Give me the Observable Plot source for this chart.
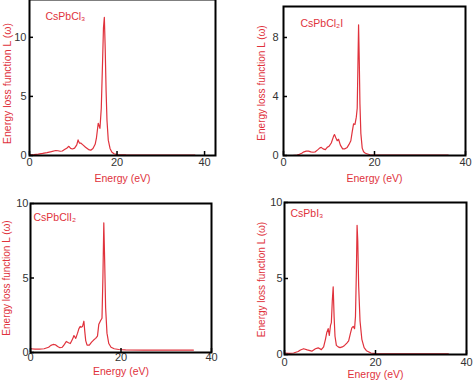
<!DOCTYPE html>
<html><head><meta charset="utf-8">
<script src="https://cdn.jsdelivr.net/npm/d3@7"></script>
<script src="https://cdn.jsdelivr.net/npm/@observablehq/plot@0.6"></script>
<style>
body{margin:0;background:#fff}
#c{position:relative;width:474px;height:380px;overflow:hidden;background:#fff}
#c>svg{position:absolute}
</style>
</head><body><div id="c"></div>
<script>
// ---- data ----
const xTicks = [0, 20, 40];
const yTicksA = [0, 5, 10];
const yTicksB = [0, 4, 8];
const xLabel = "Energy (eV)";
const yLabel = "Energy loss function L (ω)";
const names = ["CsPbCl₃", "CsPbCl₂I", "CsPbClI₂", "CsPbI₃"];

const cl3Energy = [0,1,2,3,4,5,6,6.5,7,7.5,8,8.5,9,9.4,9.8,10.3,10.8,11.1,11.4,11.7,12.2,12.8,13.5,14,14.5,15,15.3,15.7,16.1,16.4,16.7,16.9,17.1,17.3,17.5,17.7,18,18.4,18.8,19.3,20,22,25,30,35,37.8];
const cl3Loss   = [0.05,0.08,0.12,0.18,0.25,0.33,0.42,0.40,0.36,0.38,0.50,0.62,0.78,0.60,0.55,0.62,0.90,1.32,1.05,1.05,0.90,0.70,0.50,0.45,0.60,0.95,1.5,2.73,2.3,4.0,8.0,10.8,11.7,9.0,5.5,3.0,1.3,0.6,0.3,0.15,0.08,0.05,0.04,0.03,0.03,0.03];

const cl2iEnergy = [0,2,3,3.5,4,4.5,5,5.5,6,6.5,7,7.5,8,8.3,8.7,9.2,9.6,10,10.5,11,11.2,11.5,11.8,12.1,12.5,13,13.5,14,14.4,14.8,15.1,15.4,15.7,16.0,16.2,16.35,16.5,16.65,16.8,17.0,17.3,17.6,18,18.5,19,20,25,30,36.2];
const cl2iLoss   = [0,0,0.03,0.08,0.15,0.25,0.3,0.3,0.25,0.22,0.25,0.38,0.52,0.55,0.45,0.40,0.55,0.62,0.85,1.3,1.42,1.2,1.0,1.1,0.7,0.45,0.45,0.55,0.75,1.0,1.6,2.15,2.1,2.6,3.2,6.0,8.86,6.5,3.5,1.5,0.5,0.25,0.15,0.1,0.05,0.03,0.02,0.02,0.02];

const cli2Energy = [0,1,2,3,4,4.5,5,5.5,6,6.5,7,7.5,7.9,8.4,8.8,9.3,9.6,10.0,10.4,10.7,11.0,11.2,11.5,11.8,12.0,12.2,12.5,13,13.5,14,14.4,14.8,15.1,15.5,15.8,16.0,16.2,16.4,16.6,16.9,17.3,17.8,18.5,19.5,21,25,30,36];
const cli2Loss   = [0.25,0.22,0.22,0.25,0.35,0.48,0.54,0.52,0.40,0.32,0.35,0.55,0.74,0.65,0.60,0.9,1.14,0.95,1.3,1.6,1.75,1.7,1.75,2.1,1.4,0.8,0.5,0.5,0.7,0.85,0.95,1.1,1.9,2.15,2.3,5.0,8.7,6.0,3.0,1.3,0.6,0.35,0.25,0.2,0.18,0.16,0.16,0.16];

const i3Energy = [0,1,2,3,3.5,4.2,5,6,6.8,7.4,8.1,8.6,9.0,9.3,9.6,9.85,10.1,10.3,10.5,10.7,10.9,11.1,11.4,11.8,12.2,12.7,13.2,13.7,14.1,14.5,14.8,15.1,15.4,15.6,15.8,15.95,16.1,16.3,16.6,17.0,17.5,18,19,20,22,25,30,36];
const i3Loss   = [0.1,0.08,0.1,0.2,0.3,0.38,0.3,0.22,0.38,0.44,0.32,0.5,1.0,1.45,1.7,1.25,1.9,2.1,3.5,4.45,2.5,1.2,0.6,0.5,0.45,0.5,0.6,0.75,0.9,1.4,1.75,1.85,1.7,2.5,5.5,8.5,7.5,4.5,2.2,1.0,0.45,0.25,0.1,0.06,0.05,0.05,0.05,0.05];

// ---- layout ----
const RED = "#e0323c";
const panels = [
  {name: names[0], E: cl3Energy, L: cl3Loss, left: 0, top: -3, mL: 29, mR: 22, mT: 2, mB: 32, xDom: [0, 42.5], yDom: [0, 13.2], yTicks: yTicksA, yPad: 3, xPad: 3,
   yl: {dx: -22, dy: 6, fs: 10.5}, xl: {dy: 23}, tt: {dx: 16, dy: 17}},
  {name: names[1], E: cl2iEnergy, L: cl2iLoss, left: 237, top: 0, mL: 46, mR: 9, mT: 6, mB: 35, xDom: [0, 40], yDom: [0, 10.1], yTicks: yTicksB, yPad: 5, xPad: 3,
   yl: {dx: -22, dy: 2, fs: 10}, xl: {dy: 23}, tt: {dx: 17, dy: 17}},
  {name: names[2], E: cli2Energy, L: cli2Loss, left: 0, top: 190, mL: 30, mR: 26, mT: 13, mB: 28, xDom: [0, 40], yDom: [0, 10], yTicks: yTicksA, yPad: 2, xPad: 1,
   yl: {dx: -24, dy: 0, fs: 10}, xl: {dy: 19}, tt: {dx: 3, dy: 14}},
  {name: names[3], E: i3Energy, L: i3Loss, left: 237, top: 190, mL: 47, mR: 8, mT: 12, mB: 26, xDom: [0, 40], yDom: [0, 10], yTicks: yTicksA, yPad: 2, xPad: 4,
   yl: {dx: -23, dy: 1, fs: 10}, xl: {dy: 20}, tt: {dx: 6, dy: 11}}
];

const W = 237, H = 190;
const container = document.getElementById("c");
for (const p of panels) {
  const rows = p.E.map((e, i) => ({energy: e, loss: p.L[i]}));
  const innerW = W - p.mL - p.mR, innerH = H - p.mT - p.mB;
  const svg = Plot.plot({
    width: W, height: H,
    marginLeft: p.mL, marginRight: p.mR, marginTop: p.mT, marginBottom: p.mB,
    style: {fontFamily: "'Liberation Sans', Arial, Helvetica, sans-serif", fontSize: "11px", color: "#333", background: "transparent", overflow: "hidden"},
    x: {domain: p.xDom, ticks: xTicks, tickSize: 0, tickPadding: p.xPad, label: null},
    y: {domain: p.yDom, ticks: p.yTicks, tickSize: 0, tickPadding: p.yPad, label: null},
    marks: [
      Plot.line(rows, {x: "energy", y: "loss", stroke: RED, strokeWidth: 1.2}),
      Plot.tickX(xTicks, {x: d => d, stroke: "#000", strokeWidth: 1.5, insetTop: innerH - 4}),
      Plot.tickY(p.yTicks, {y: d => d, stroke: "#000", strokeWidth: 1.5, insetRight: innerW - 4}),
      Plot.frame({stroke: "#000", strokeWidth: 2}),
      Plot.text([p.name], {frameAnchor: "top-left", textAnchor: "start", lineAnchor: "middle", dx: p.tt.dx, dy: p.tt.dy, fill: RED, fontSize: 10.5}),
      Plot.text([yLabel], {frameAnchor: "left", rotate: -90, dx: p.yl.dx, dy: p.yl.dy, fill: RED, fontSize: p.yl.fs, textAnchor: "middle", lineAnchor: "middle"}),
      Plot.text([xLabel], {frameAnchor: "bottom", dy: p.xl.dy, fill: RED, fontSize: 10.5, textAnchor: "middle", lineAnchor: "middle"})
    ]
  });
  svg.style.left = p.left + "px";
  svg.style.top = p.top + "px";
  container.appendChild(svg);
}
</script>
</body></html>
